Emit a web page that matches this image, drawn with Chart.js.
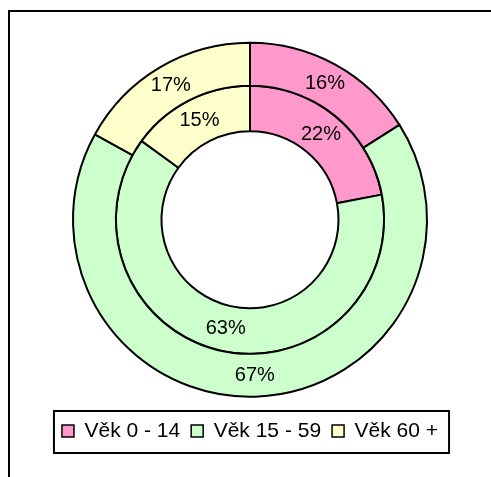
<!DOCTYPE html>
<html>
<head>
<meta charset="utf-8">
<script src="https://cdn.jsdelivr.net/npm/chart.js@4"></script>
<style>
  html, body { margin: 0; padding: 0; background: #fff; }
  #graf { display: block; }
</style>
</head>
<body>
<canvas id="graf" width="491" height="477"></canvas>
<script>
// Věková struktura - vnější kruh a vnitřní kruh (v %)
const kategorie = ['Věk 0 - 14', 'Věk 15 - 59', 'Věk 60 +'];
const vnejsiKruh = [16, 67, 17];
const vnitrniKruh = [22, 63, 15];
const barvy = ['#FF99CC', '#CCFFCC', '#FFFFCC'];

const pismo = "Arial, 'Liberation Sans', sans-serif";

// rámeček kolem celého grafu (jen horní a levá hrana jsou vidět)
const ramecek = {
    id: 'ramecek',
    beforeDraw(chart) {
        const ctx = chart.ctx;
        ctx.save();
        ctx.fillStyle = '#fff';
        ctx.fillRect(0, 0, chart.width, chart.height);
        ctx.strokeStyle = '#000';
        ctx.lineWidth = 2;
        ctx.beginPath();
        ctx.moveTo(9, chart.height);
        ctx.lineTo(9, 11);
        ctx.lineTo(chart.width, 11);
        ctx.stroke();
        ctx.restore();
    },
    afterDraw(chart) {
        // rámeček legendy podle pozic položek
        const boxy = chart.legend.legendHitBoxes;
        if (!boxy || !boxy.length) return;
        const ctx = chart.ctx;
        const vlevo = Math.min(...boxy.map(b => b.left)) - 8;
        const vpravo = Math.max(...boxy.map(b => b.left + b.width)) + 11;
        const nahore = boxy[0].top - 9.5;
        const dole = boxy[0].top + boxy[0].height + 11.5;
        ctx.save();
        ctx.strokeStyle = '#000';
        ctx.lineWidth = 2;
        ctx.strokeRect(vlevo, nahore, vpravo - vlevo, dole - nahore);
        ctx.restore();
    }
};

// popisky procent uprostřed výsečí
const popisky = {
    id: 'popisky',
    afterDatasetsDraw(chart) {
        const ctx = chart.ctx;
        ctx.save();
        ctx.font = '20px ' + pismo;
        ctx.fillStyle = '#000';
        ctx.textAlign = 'center';
        ctx.textBaseline = 'middle';
        chart.data.datasets.forEach((ds, i) => {
            chart.getDatasetMeta(i).data.forEach((arc, j) => {
                const p = arc.tooltipPosition();
                ctx.fillText(ds.data[j] + '%', p.x, p.y);
            });
        });
        ctx.restore();
    }
};

new Chart(document.getElementById('graf'), {
    type: 'doughnut',
    data: {
        labels: kategorie,
        datasets: [{
            data: vnejsiKruh,
            backgroundColor: barvy,
            borderColor: '#000',
            borderWidth: 2,
            hoverBorderWidth: 2,
            weight: 0.94
        }, {
            data: vnitrniKruh,
            backgroundColor: barvy,
            borderColor: '#000',
            borderWidth: 2,
            hoverBorderWidth: 2,
            weight: 1
        }]
    },
    options: {
        responsive: false,
        animation: false,
        events: [],
        radius: 177,
        cutout: '50%',
        layout: {
            padding: { top: 30, left: 9, right: 0, bottom: 25.5 }
        },
        plugins: {
            legend: {
                position: 'bottom',
                labels: {
                    boxWidth: 12,
                    boxHeight: 12,
                    padding: 11,
                    color: '#000',
                    font: { size: 21, family: pismo },
                    generateLabels(chart) {
                        const zaklad = Chart.overrides.doughnut.plugins.legend.labels.generateLabels(chart);
                        return zaklad.map(l => Object.assign(l, { lineWidth: 1.5 }));
                    }
                }
            },
            tooltip: { enabled: false }
        }
    },
    plugins: [ramecek, popisky]
});
</script>
</body>
</html>
